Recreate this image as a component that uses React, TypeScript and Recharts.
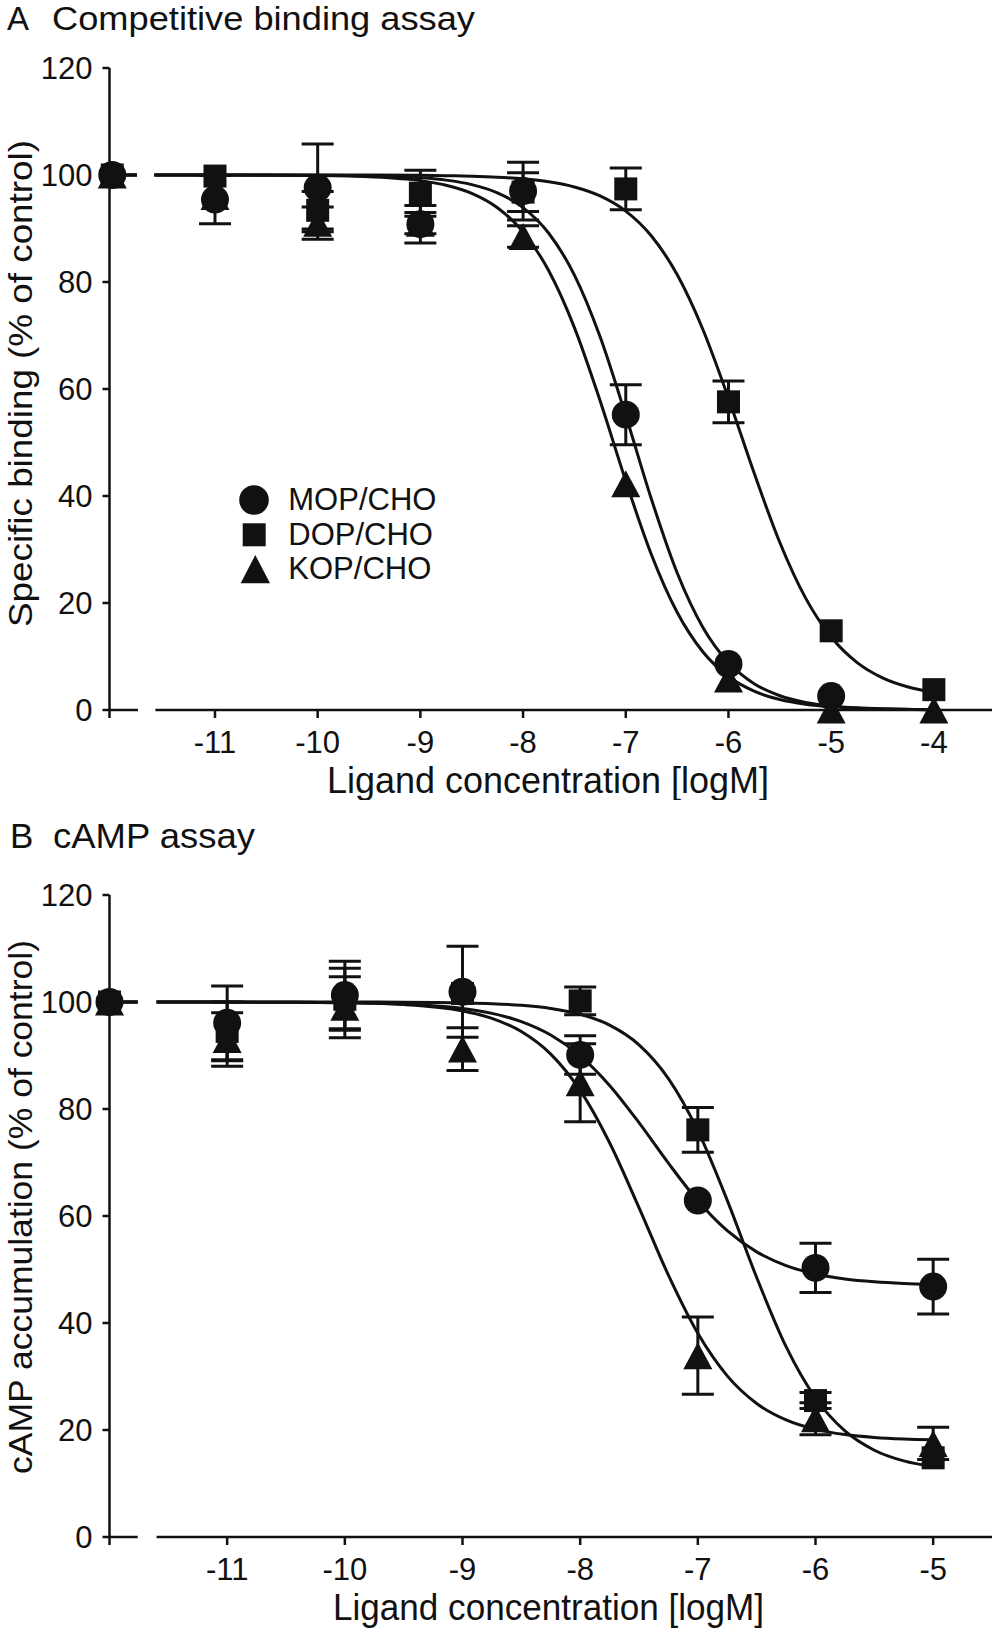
import React from 'react';
import {
  ComposedChart,
  Line,
  Scatter,
  XAxis,
  YAxis,
  ErrorBar,
  ReferenceLine,
  Label,
  Legend,
} from 'recharts';

const FONT = '"Liberation Sans", Arial, Helvetica, sans-serif';
const INK = '#111111';

// ---------- Panel A: Competitive binding assay ----------
const doseA = [-12, -11, -10, -9, -8, -7, -6, -5, -4];
const mopA = [100, 95.4, 97.6, 90.8, 97, 55.2, 8.6, 2.6, null];
const mopErrA = [0, 4.5, 8.2, 3.5, 5.4, 5.6, 0, 0, null];
const dopA = [100, 99.8, 93.4, 96.6, 96.8, 97.4, 57.6, 14.8, 3.8];
const dopErrA = [0, 0, 3.5, 4.3, 3.6, 3.9, 3.9, 0, 0];
const kopA = [100, 96, 91, 91, 88.5, 42.3, 5.8, 0, 0];
const kopErrA = [0, 0, 3, 2, 2, 0, 0, 0, 0];

// fitted curves; null = axis break
const fitXA = [-12, -11.76, -11.68, -11.59, -11, -10.5, -10, -9.5, -9, -8.75, -8.5, -8.25, -8, -7.75, -7.5, -7.25, -7, -6.75, -6.5, -6.25, -6, -5.75, -5.5, -5.25, -5, -4.75, -4.5, -4.25, -4];
const fitMopA = [100, 100, null, 100, 100, 99.99, 99.96, 99.86, 99.49, 99.04, 98.2, 96.67, 93.91, 89.11, 81.29, 69.76, 55.05, 39.4, 25.66, 15.48, 8.87, 4.91, 2.67, 1.43, 0.77, 0.41, 0.22, 0.12, 0.06];
const fitDopA = [100, 100, null, 100, 100, 100, 99.99, 99.98, 99.93, 99.87, 99.77, 99.59, 99.28, 98.73, 97.76, 96.08, 93.24, 88.59, 81.39, 71.17, 58.28, 44.28, 31.31, 20.96, 13.65, 8.91, 6.01, 4.3, 3.3];
const fitKopA = [100, 100, null, 100, 99.99, 99.97, 99.91, 99.68, 98.95, 98.09, 96.57, 93.89, 89.36, 82.1, 71.48, 57.8, 42.8, 29.02, 18.26, 10.88, 6.25, 3.51, 1.95, 1.08, 0.59, 0.32, 0.18, 0.1, 0.05];
const ticksXA = [-11, -10, -9, -8, -7, -6, -5, -4];

// ---------- Panel B: cAMP assay ----------
const doseB = [-12, -11, -10, -9, -8, -7, -6, -5];
const mopB = [100, 96.1, 101.3, 101.9, 90.1, 62.9, 50.3, 46.8];
const mopErrB = [0, 6.9, 6.3, 8.5, 3.6, 0, 4.6, 5.1];
const dopB = [100, 94.5, 100.5, 101.6, 100.2, 76.1, 25.5, 14.8];
const dopErrB = [0, 5.5, 5.8, 0, 2.6, 4.2, 1.5, 0];
const kopB = [100, 93, 99, 91.2, 84.9, 33.9, 22.1, 17.5];
const kopErrB = [0, 5, 5.7, 4, 7.3, 7.2, 3, 3];

const fitXB = [-12, -11.76, -11.68, -11.6, -11, -10.5, -10, -9.5, -9, -8.75, -8.5, -8.25, -8, -7.75, -7.5, -7.25, -7, -6.75, -6.5, -6.25, -6, -5.75, -5.5, -5.25, -5];
const fitMopB = [100, 100, null, 100, 99.99, 99.96, 99.88, 99.61, 98.79, 97.88, 96.34, 93.83, 89.94, 84.41, 77.44, 69.87, 62.85, 57.25, 53.3, 50.74, 49.17, 48.24, 47.71, 47.4, 47.23];
const fitDopB = [100, 100, null, 100, 100, 100, 99.99, 99.96, 99.83, 99.68, 99.38, 98.8, 97.71, 95.68, 92.0, 85.69, 75.96, 62.93, 48.51, 35.57, 25.98, 19.82, 16.22, 14.22, 13.16];
const fitKopB = [100, 100, null, 100, 99.99, 99.96, 99.86, 99.52, 98.34, 96.95, 94.47, 90.25, 83.47, 73.7, 61.57, 48.94, 38.07, 30.12, 24.96, 21.88, 20.12, 19.15, 18.62, 18.33, 18.18];
const ticksXB = [-11, -10, -9, -8, -7, -6, -5];

const ticksY = [0, 20, 40, 60, 80, 100, 120];
const legendNames = ['MOP/CHO', 'DOP/CHO', 'KOP/CHO'];

// ---------- helpers ----------
const toPoints = (xs: number[], ys: (number | null)[], es: (number | null)[]) =>
  xs
    .map((x, i) => ({ x, y: ys[i], e: es[i] ?? 0 }))
    .filter((p) => p.y !== null);
const toCurve = (xs: number[], ys: (number | null)[]) => xs.map((x, i) => ({ x, y: ys[i] }));

const CircleMark = (p: any) => <circle cx={p.cx} cy={p.cy} r={14} fill={INK} />;
const SquareMark = (p: any) => (
  <rect x={p.cx - 11.5} y={p.cy - 11.5} width={23} height={23} fill={INK} />
);
const TriangleMark = (p: any) => (
  <polygon
    points={`${p.cx},${p.cy - 13.5} ${p.cx - 14.5},${p.cy + 13.5} ${p.cx + 14.5},${p.cy + 13.5}`}
    fill={INK}
  />
);

const LegendBox = () => (
  <svg width={230} height={112} style={{ display: 'block', overflow: 'visible' }}>
    <circle cx={24} cy={22} r={14.8} fill={INK} />
    <rect x={12.7} y={45.3} width={23} height={23} fill={INK} />
    <polygon points="25.3,77 10.7,105.3 40,105.3" fill={INK} />
    {legendNames.map((n, i) => (
      <text key={n} x={58.3} y={32 + i * 34.7} fontSize={31} fontFamily={FONT} fill={INK}>
        {n}
      </text>
    ))}
  </svg>
);

type PanelProps = {
  height: number;
  plotTop: number;
  xAxisHeight: number;
  xDomain: [number, number];
  xTicks: number[];
  breakL: number;
  breakR: number;
  curves: { x: number; y: number | null }[][];
  points: { x: number; y: number | null; e: number }[][];
  letter: string;
  letterX: number;
  title: string;
  titleX: number;
  titleLen: number;
  titleBase: number;
  titleSize: number;
  xTitleBase: number;
  xTitleLen: number;
  xTitleCx: number;
  yTitle: string;
  yTitleCy: number;
  yTitleBaseX: number;
  yTitleLen: number;
  legend: boolean;
};

const Panel = (p: PanelProps) => {
  const shapes = [CircleMark, SquareMark, TriangleMark];
  const [xmin, xmax] = p.xDomain;
  return (
    <ComposedChart
      width={992}
      height={p.height}
      margin={{ top: p.plotTop, right: 0, bottom: 0, left: 0 }}
    >
      <XAxis
        type="number"
        dataKey="x"
        domain={p.xDomain}
        ticks={p.xTicks}
        interval={0}
        height={p.xAxisHeight}
        axisLine={false}
        tickSize={8}
        tickMargin={13}
        tickLine={{ stroke: INK, strokeWidth: 2.5 }}
        tick={{ fontSize: 31, fontFamily: FONT, fill: INK }}
        tickFormatter={(v: number) => String(v)}
      >
        <Label
          content={() => (
            <text
              x={p.xTitleCx}
              y={p.xTitleBase}
              textAnchor="middle"
              fontSize={36}
              fontFamily={FONT}
              fill={INK}
              textLength={p.xTitleLen}
              lengthAdjust="spacingAndGlyphs"
            >
              Ligand concentration [logM]
            </text>
          )}
        />
      </XAxis>
      <YAxis
        type="number"
        dataKey="y"
        domain={[0, 120]}
        ticks={ticksY}
        interval={0}
        width={109.5}
        axisLine={false}
        tickSize={7}
        tickMargin={10}
        tickLine={{ stroke: INK, strokeWidth: 2.5 }}
        tick={{ fontSize: 31, fontFamily: FONT, fill: INK }}
      >
        <Label
          content={() => (
            <text
              x={p.yTitleBaseX}
              y={p.yTitleCy}
              transform={`rotate(-90 ${p.yTitleBaseX} ${p.yTitleCy})`}
              textAnchor="middle"
              fontSize={34}
              fontFamily={FONT}
              fill={INK}
              textLength={p.yTitleLen}
              lengthAdjust="spacingAndGlyphs"
            >
              {p.yTitle}
            </text>
          )}
        />
        <Label
          content={() => (
            <g>
              <text x={p.letterX} y={p.titleBase} fontSize={p.titleSize} fontFamily={FONT} fill={INK}>
                {p.letter}
              </text>
              <text
                x={p.titleX}
                y={p.titleBase}
                fontSize={p.titleSize}
                fontFamily={FONT}
                fill={INK}
                textLength={p.titleLen}
                lengthAdjust="spacingAndGlyphs"
              >
                {p.title}
              </text>
            </g>
          )}
        />
      </YAxis>
      {/* axes drawn as segments (GraphPad-style break in the X axis) */}
      <ReferenceLine
        segment={[{ x: xmin, y: -1.5 }, { x: xmin, y: 120 }]}
        stroke={INK}
        strokeWidth={2.5}
        ifOverflow="visible"
      />
      <ReferenceLine
        segment={[{ x: xmin, y: 0 }, { x: p.breakL, y: 0 }]}
        stroke={INK}
        strokeWidth={2.5}
        ifOverflow="visible"
      />
      <ReferenceLine
        segment={[{ x: p.breakR, y: 0 }, { x: xmax, y: 0 }]}
        stroke={INK}
        strokeWidth={2.5}
        ifOverflow="visible"
      />
      {p.curves.map((c, i) => (
        <Line
          key={'c' + i}
          data={c}
          dataKey="y"
          type="monotone"
          stroke={INK}
          strokeWidth={3}
          dot={false}
          activeDot={false}
          connectNulls={false}
          isAnimationActive={false}
        />
      ))}
      {p.points.map((pts, i) => (
        <Scatter
          key={'s' + i}
          name={legendNames[i]}
          data={pts}
          fill={INK}
          shape={shapes[i]}
          isAnimationActive={false}
        >
          <ErrorBar
            dataKey="e"
            direction="y"
            width={16}
            stroke={INK}
            strokeWidth={3}
            isAnimationActive={false}
          />
        </Scatter>
      ))}
      {p.legend && (
        <Legend
          layout="vertical"
          align="center"
          verticalAlign="middle"
          content={() => <LegendBox />}
          wrapperStyle={{ left: 230, top: 478, width: 230, height: 112 }}
        />
      )}
    </ComposedChart>
  );
};

export default function App() {
  return (
    <div
      style={{
        position: 'absolute',
        left: 0,
        top: 0,
        width: 992,
        height: 1631,
        background: '#ffffff',
        overflow: 'hidden',
      }}
    >
      <div style={{ position: 'absolute', left: 0, top: 0 }}>
        <Panel
          height={800}
          plotTop={68}
          xAxisHeight={90}
          xDomain={[-12.027, -3.434]}
          xTicks={ticksXA}
          breakL={-11.75}
          breakR={-11.58}
          curves={[toCurve(fitXA, fitMopA), toCurve(fitXA, fitDopA), toCurve(fitXA, fitKopA)]}
          points={[
            toPoints(doseA, mopA, mopErrA),
            toPoints(doseA, dopA, dopErrA),
            toPoints(doseA, kopA, kopErrA),
          ]}
          letter="A"
          letterX={7}
          title="Competitive binding assay"
          titleX={52}
          titleLen={423}
          titleBase={30}
          titleSize={33}
          xTitleBase={793}
          xTitleLen={442}
          xTitleCx={548}
          yTitle="Specific binding (% of control)"
          yTitleCy={383.5}
          yTitleBaseX={31.5}
          yTitleLen={487}
          legend={true}
        />
      </div>
      <div style={{ position: 'absolute', left: 0, top: 800 }}>
        <Panel
          height={831}
          plotTop={95}
          xAxisHeight={94}
          xDomain={[-12.0, -4.5]}
          xTicks={ticksXB}
          breakL={-11.76}
          breakR={-11.6}
          curves={[toCurve(fitXB, fitMopB), toCurve(fitXB, fitDopB), toCurve(fitXB, fitKopB)]}
          points={[
            toPoints(doseB, mopB, mopErrB),
            toPoints(doseB, dopB, dopErrB),
            toPoints(doseB, kopB, kopErrB),
          ]}
          letter="B"
          letterX={10}
          title="cAMP assay"
          titleX={53}
          titleLen={202}
          titleBase={48}
          titleSize={35}
          xTitleBase={820}
          xTitleLen={431}
          xTitleCx={548.5}
          yTitle="cAMP accumulation (% of control)"
          yTitleCy={407}
          yTitleBaseX={32}
          yTitleLen={534}
          legend={false}
        />
      </div>
    </div>
  );
}
